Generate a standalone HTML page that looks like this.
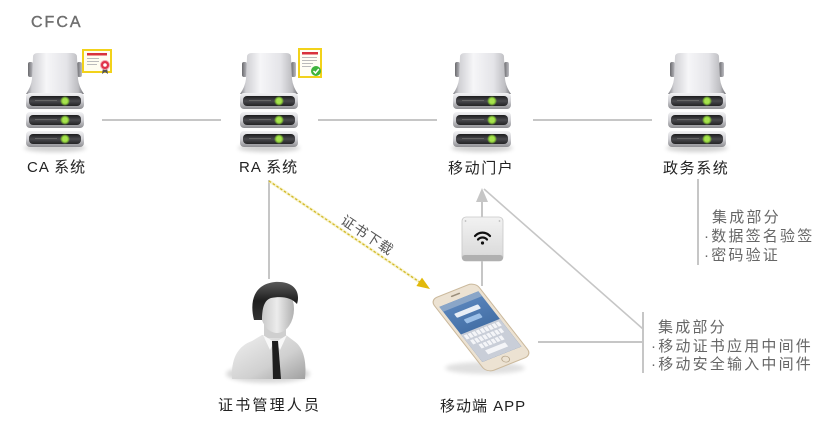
<!DOCTYPE html>
<html><head><meta charset="utf-8"><style>
html,body{margin:0;padding:0;background:#fff;}
svg{display:block;}
.lb{font-family:"Liberation Sans","Noto Sans CJK SC",sans-serif;font-size:15px;fill:#222;letter-spacing:1px;}
.sd{font-family:"Liberation Sans","Noto Sans CJK SC",sans-serif;font-size:15px;fill:#666;letter-spacing:2.2px;}
</style></head><body>
<svg width="830" height="422" viewBox="0 0 830 422" xmlns="http://www.w3.org/2000/svg">
<defs>
<linearGradient id="bodyG" x1="0" x2="1" y1="0" y2="0">
<stop offset="0" stop-color="#7d7d82"/><stop offset="0.1" stop-color="#cfcfd3"/><stop offset="0.35" stop-color="#f6f6f8"/><stop offset="0.7" stop-color="#e4e4e8"/><stop offset="0.9" stop-color="#bdbdc1"/><stop offset="1" stop-color="#707075"/>
</linearGradient>
<linearGradient id="earG" x1="0" x2="1"><stop offset="0" stop-color="#6a6a6e"/><stop offset="1" stop-color="#bdbdc2"/></linearGradient>
<linearGradient id="drawG" x1="0" x2="0" y1="0" y2="1"><stop offset="0" stop-color="#f2f2f4"/><stop offset="0.5" stop-color="#d0d0d4"/><stop offset="1" stop-color="#8e8e92"/></linearGradient>
<linearGradient id="slotG" x1="0" x2="0" y1="0" y2="1"><stop offset="0" stop-color="#1c1c1e"/><stop offset="0.5" stop-color="#4a4a4e"/><stop offset="1" stop-color="#232325"/></linearGradient>
<radialGradient id="ledG"><stop offset="0" stop-color="#d8ff7a"/><stop offset="0.6" stop-color="#8fd23a"/><stop offset="1" stop-color="#8fd23a" stop-opacity="0"/></radialGradient>
<linearGradient id="faceG" x1="0" x2="1"><stop offset="0" stop-color="#c4c4c4"/><stop offset="0.5" stop-color="#ececec"/><stop offset="1" stop-color="#b0b0b0"/></linearGradient>
<linearGradient id="shirtG" x1="0" x2="1" y1="0" y2="1"><stop offset="0" stop-color="#f0f0f0"/><stop offset="0.6" stop-color="#d0d0d0"/><stop offset="1" stop-color="#a0a0a0"/></linearGradient>
<linearGradient id="hairG" x1="0" x2="0" y1="0" y2="1"><stop offset="0" stop-color="#5a5a5a"/><stop offset="0.5" stop-color="#1e1e1e"/><stop offset="1" stop-color="#333"/></linearGradient>
<linearGradient id="scrG" x1="0" x2="0" y1="0" y2="1"><stop offset="0" stop-color="#5b86bd"/><stop offset="1" stop-color="#2d5a90"/></linearGradient>
<linearGradient id="wifiG" x1="0" x2="0" y1="0" y2="1"><stop offset="0" stop-color="#f2f2f2"/><stop offset="0.85" stop-color="#dcdcdc"/><stop offset="1" stop-color="#a9a9a9"/></linearGradient>
<filter id="blur" x="-50%" y="-50%" width="200%" height="200%"><feGaussianBlur stdDeviation="2"/></filter>

<g id="drawer">
<rect x="-29" y="0" width="58" height="16" rx="4" fill="url(#drawG)"/>
<rect x="-26" y="3" width="52" height="10" rx="4" fill="url(#slotG)"/>
<rect x="-20" y="7" width="22" height="1" fill="#666"/>
<circle cx="10" cy="8" r="5" fill="url(#ledG)"/>
<rect x="8" y="6" width="4" height="4" fill="#a6e24e"/>
</g>
<g id="srv">
<ellipse cx="0" cy="95" rx="31" ry="4" fill="#000" opacity="0.18" filter="url(#blur)"/>
<rect x="-27" y="9" width="5" height="15" rx="2" fill="url(#earG)"/>
<rect x="22" y="9" width="5" height="15" rx="2" fill="url(#earG)"/>
<path d="M-22,4 Q-22,0 -17,0 L17,0 Q22,0 22,4 L23,26 Q24,34 29,41 L-29,41 Q-24,34 -23,26 Z" fill="url(#bodyG)"/>
<use href="#drawer" y="40"/>
<use href="#drawer" y="59"/>
<use href="#drawer" y="78"/>
</g>
</defs>

<!-- CFCA -->
<text x="31" y="27" font-family="Liberation Sans, sans-serif" font-size="16" fill="#6e6e6e" stroke="#6e6e6e" stroke-width="0.4" style="letter-spacing:2px">CFCA</text>

<!-- horizontal connectors -->
<g stroke="#c6c6c6" stroke-width="2">
<line x1="102" y1="120" x2="221" y2="120"/>
<line x1="318" y1="120" x2="437" y2="120"/>
<line x1="533" y1="120" x2="652" y2="120"/>
</g>

<!-- servers -->
<use href="#srv" x="55" y="53"/>
<use href="#srv" x="269" y="53"/>
<use href="#srv" x="482" y="53"/>
<use href="#srv" x="697" y="53"/>

<!-- CA certificate -->
<rect x="83" y="50" width="28" height="22" fill="#fffdf0" stroke="#f2d21a" stroke-width="2"/>
<rect x="87" y="53" width="20" height="2.5" fill="#d8323c"/>
<rect x="87" y="58" width="12" height="1" fill="#bbb"/>
<rect x="87" y="61" width="12" height="1" fill="#bbb"/>
<rect x="87" y="64" width="10" height="1" fill="#bbb"/>
<path d="M103,68 L102,74 L105,72 L108,74 L107,68 Z" fill="#555"/>
<circle cx="105" cy="65" r="4.5" fill="#e0324a" stroke="#f6a0b0" stroke-width="1"/>
<circle cx="105" cy="65" r="1.8" fill="#fff"/>

<!-- RA certificate -->
<rect x="299" y="49" width="22" height="28" fill="#fffef5" stroke="#f2d21a" stroke-width="2"/>
<rect x="302" y="52" width="16" height="2.5" fill="#d8323c"/>
<rect x="302" y="57" width="15" height="1" fill="#bbb"/>
<rect x="302" y="60" width="15" height="1" fill="#bbb"/>
<rect x="302" y="63" width="11" height="1" fill="#bbb"/>
<rect x="302" y="66" width="9" height="1" fill="#bbb"/>
<circle cx="316" cy="71" r="5" fill="#3eb33c"/>
<path d="M313.5,71 L315.5,73 L318.8,69" fill="none" stroke="#fff" stroke-width="1.5"/>

<!-- labels -->
<text class="lb" x="27" y="172">CA 系统</text>
<text class="lb" x="239" y="172">RA 系统</text>
<text class="lb" x="448" y="173" style="letter-spacing:1.6px">移动门户</text>
<text class="lb" x="663" y="173" style="letter-spacing:1.6px">政务系统</text>

<!-- RA to person -->
<line x1="269" y1="180" x2="269" y2="279" stroke="#c6c6c6" stroke-width="2"/>

<!-- dotted yellow arrow -->
<line x1="269" y1="181" x2="421" y2="283" stroke="#f3ecb0" stroke-width="3" opacity="0.6"/>
<line x1="269" y1="181" x2="421" y2="283" stroke="#d2b824" stroke-width="1.3" stroke-dasharray="2.5,2"/>
<polygon points="430,289 416.4,286 422,277.6" fill="#e2b90a"/>
<text x="367" y="240" text-anchor="middle" transform="rotate(33.5 367 236)" font-family="Liberation Sans, Noto Sans CJK SC, sans-serif" font-size="14" fill="#555" style="letter-spacing:1px">证书下载</text>

<!-- portal/app connectors -->
<line x1="482" y1="200" x2="482" y2="286" stroke="#c6c6c6" stroke-width="2"/>
<polygon points="482,188 476,202 488,202" fill="#c6c6c6"/>
<line x1="484" y1="189" x2="643" y2="329" stroke="#c6c6c6" stroke-width="1.6"/>
<line x1="643" y1="312" x2="643" y2="373" stroke="#c6c6c6" stroke-width="2"/>
<line x1="538" y1="342" x2="643" y2="342" stroke="#c6c6c6" stroke-width="2"/>
<line x1="698" y1="179" x2="698" y2="265" stroke="#c6c6c6" stroke-width="2"/>

<!-- wifi device -->
<rect x="462" y="217" width="41" height="44" rx="4" fill="url(#wifiG)" stroke="#c8c8c8" stroke-width="0.8"/>
<rect x="462" y="255" width="41" height="6" rx="3" fill="#b0b0b0"/>
<circle cx="465.5" cy="221" r="0.9" fill="#bbb"/><circle cx="499.5" cy="221" r="0.9" fill="#bbb"/>
<g fill="none" stroke="#111" stroke-width="2.2" stroke-linecap="round">
<path d="M475,236 A10,10 0 0 1 490,236"/>
<path d="M478,239.5 A6,6 0 0 1 487,239.5"/>
</g>
<circle cx="482.5" cy="243" r="1.6" fill="#111"/>

<!-- phone -->
<ellipse cx="485" cy="368" rx="40" ry="6" fill="#000" opacity="0.12" filter="url(#blur)"/>
<g transform="matrix(1,-0.4,0.633,0.811,430,300)">
<rect x="0" y="0" width="45" height="90" rx="7" fill="#ece2d2" stroke="#cbb99c" stroke-width="1"/>
<rect x="3" y="10" width="39" height="68" fill="url(#scrG)"/>
<rect x="3" y="10" width="39" height="6" fill="#8aa6c8"/>
<rect x="10" y="22" width="24" height="5" rx="1" fill="#e8eef6"/>
<rect x="14" y="31" width="16" height="5" rx="1" fill="#9cc0e8"/>
<rect x="3" y="44" width="39" height="34" fill="#c9ced8"/>
<g fill="#f4f5f8">
<rect x="4.5" y="46" width="3" height="5"/><rect x="8.5" y="46" width="3" height="5"/><rect x="12.5" y="46" width="3" height="5"/><rect x="16.5" y="46" width="3" height="5"/><rect x="20.5" y="46" width="3" height="5"/><rect x="24.5" y="46" width="3" height="5"/><rect x="28.5" y="46" width="3" height="5"/><rect x="32.5" y="46" width="3" height="5"/><rect x="36.5" y="46" width="3" height="5"/>
<rect x="6.5" y="53" width="3" height="5"/><rect x="10.5" y="53" width="3" height="5"/><rect x="14.5" y="53" width="3" height="5"/><rect x="18.5" y="53" width="3" height="5"/><rect x="22.5" y="53" width="3" height="5"/><rect x="26.5" y="53" width="3" height="5"/><rect x="30.5" y="53" width="3" height="5"/><rect x="34.5" y="53" width="3" height="5"/>
<rect x="10.5" y="60" width="3" height="5"/><rect x="14.5" y="60" width="3" height="5"/><rect x="18.5" y="60" width="3" height="5"/><rect x="22.5" y="60" width="3" height="5"/><rect x="26.5" y="60" width="3" height="5"/><rect x="30.5" y="60" width="3" height="5"/>
<rect x="12" y="68" width="20" height="5"/>
</g>
<circle cx="22.5" cy="84" r="3.3" fill="none" stroke="#b8a88e" stroke-width="0.8"/>
<rect x="18" y="4" width="9" height="1.5" rx="0.7" fill="#9a8e7a"/>
</g>

<!-- person -->
<ellipse cx="268" cy="374" rx="42" ry="9" fill="#000" opacity="0.15" filter="url(#blur)"/>
<path d="M232,379 C231,358 238,346 252,341 L262,335 L286,335 L294,341 C303,347 307,360 305,379 Z" fill="url(#shirtG)"/>
<rect x="264" y="318" width="22" height="20" fill="#cfcfcf"/>
<path d="M263,335 L274,342 L270,350 Z" fill="#f8f8f8"/>
<path d="M287,335 L276,342 L280,350 Z" fill="#f8f8f8"/>
<path d="M272,341 L278,341 L281,379 L273,379 Z" fill="#1e1e1e"/>
<ellipse cx="277" cy="309" rx="17" ry="24" fill="url(#faceG)"/>
<ellipse cx="259" cy="312" rx="4" ry="7" fill="#c2c2c2"/>
<path d="M254,320 C249,300 255,284 275,282 C293,281 301,291 297,304 C291,297 281,296 271,298 C264,300 262,309 262,320 Z" fill="url(#hairG)"/>

<text class="lb" x="218" y="410" style="letter-spacing:2.2px">证书管理人员</text>
<text class="lb" x="440" y="411">移动端 APP</text>

<!-- side notes -->
<text class="sd" x="712" y="222">集成部分</text>
<text class="sd" x="704" y="241">·数据签名验签</text>
<text class="sd" x="704" y="260">·密码验证</text>
<text class="sd" x="658" y="332">集成部分</text>
<text class="sd" x="651" y="351">·移动证书应用中间件</text>
<text class="sd" x="651" y="369">·移动安全输入中间件</text>
</svg>
</body></html>
